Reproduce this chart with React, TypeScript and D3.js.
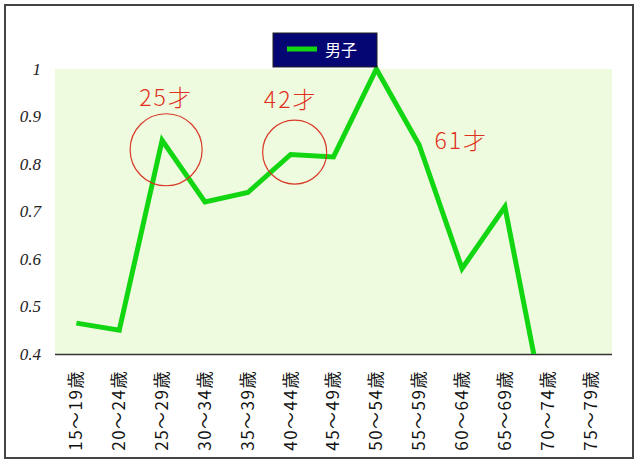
import React, { useEffect, useRef } from 'react';
import * as d3 from 'd3';

const categories = ['15～19歳', '20～24歳', '25～29歳', '30～34歳', '35～39歳', '40～44歳', '45～49歳',
    '50～54歳', '55～59歳', '60～64歳', '65～69歳', '70～74歳', '75～79歳'];
const maleValues: Array<number | null> = [0.465, 0.45, 0.85, 0.72, 0.74, 0.82, 0.815, 1.0, 0.84, 0.58, 0.71, 0.25, null];
const yTicks = [0.4, 0.5, 0.6, 0.7, 0.8, 0.9, 1];
const seriesName = '男子';

// annotations: category + value where the note sits
const circleNotes = [
    { cat: '25～29歳', value: 0.83, r: 36 },
    { cat: '40～44歳', value: 0.825, r: 32 },
];
const textNotes = [
    { cat: '25～29歳', value: 0.94, label: '25才', dx: 4 },
    { cat: '40～44歳', value: 0.935, label: '42才', dx: 0 },
    { cat: '55～59歳', value: 0.848, label: '61才', dx: 42 },
];

export default function App() {
    const ref = useRef<SVGSVGElement>(null);

    useEffect(() => {
        const width = 640;
        const height = 467;
        const margin = { top: 69, right: 28, bottom: 113, left: 55 };

        const svg = d3.select(ref.current);
        svg.selectAll('*').remove();

        const x = d3.scaleBand<string>()
            .domain(categories)
            .range([margin.left, width - margin.right]);
        const y = d3.scaleLinear()
            .domain([0.4, 1])
            .range([height - margin.bottom, margin.top]);
        const cx = (c: string) => (x(c) as number) + x.bandwidth() / 2;

        // outer frame
        svg.append('rect')
            .attr('x', 5).attr('y', 5)
            .attr('width', 628).attr('height', 453)
            .attr('fill', '#fff')
            .attr('stroke', '#444')
            .attr('stroke-width', 2);

        // plot background
        svg.append('rect')
            .attr('x', margin.left).attr('y', y(1))
            .attr('width', width - margin.left - margin.right)
            .attr('height', y(0.4) - y(1))
            .attr('fill', '#effbdf');

        svg.append('clipPath').attr('id', 'plotClip')
            .append('rect')
            .attr('x', margin.left).attr('y', y(1) - 4)
            .attr('width', width - margin.left - margin.right)
            .attr('height', y(0.4) - y(1) + 4);

        // y labels
        svg.selectAll('.yLabel')
            .data(yTicks)
            .enter().append('text')
            .attr('class', 'yLabel')
            .attr('x', 41)
            .attr('y', (d: number) => y(d))
            .attr('dy', '0.35em')
            .attr('text-anchor', 'end')
            .attr('font-family', '"Liberation Serif", "DejaVu Serif", serif')
            .attr('font-style', 'italic')
            .attr('font-size', 17)
            .attr('fill', '#222')
            .text((d: number) => d === 1 ? '1' : d.toFixed(1));

        // x axis line
        svg.append('line')
            .attr('x1', margin.left).attr('x2', width - margin.right)
            .attr('y1', y(0.4) + 0.5).attr('y2', y(0.4) + 0.5)
            .attr('stroke', '#333')
            .attr('stroke-width', 1.5);

        // x labels
        svg.selectAll('.xLabel')
            .data(categories)
            .enter().append('text')
            .attr('class', 'xLabel')
            .attr('transform', (d: string) => 'translate(' + [cx(d), y(0.4) + 16] + ') rotate(-90)')
            .attr('dy', '0.35em')
            .attr('text-anchor', 'end')
            .attr('font-family', '"Noto Sans CJK JP", "Noto Sans", sans-serif')
            .attr('font-size', 17)
            .attr('letter-spacing', 1.5)
            .attr('fill', '#111')
            .text((d: string) => d);

        // line
        const pts = categories.map((c, i) => ({ c, v: maleValues[i] }));
        const line = d3.line<{ c: string, v: number | null }>()
            .defined(d => d.v !== null)
            .x(d => cx(d.c))
            .y(d => y(d.v as number));
        svg.append('path')
            .datum(pts)
            .attr('clip-path', 'url(#plotClip)')
            .attr('d', line)
            .attr('fill', 'none')
            .attr('stroke', '#11d611')
            .attr('stroke-width', 5)
            .attr('stroke-linejoin', 'miter');

        // circles
        svg.selectAll('.note')
            .data(circleNotes)
            .enter().append('circle')
            .attr('class', 'note')
            .attr('cx', d => cx(d.cat) + 4)
            .attr('cy', d => y(d.value))
            .attr('r', d => d.r)
            .attr('fill', 'none')
            .attr('stroke', '#d83828')
            .attr('stroke-width', 1.2);

        svg.selectAll('.noteText')
            .data(textNotes)
            .enter().append('text')
            .attr('class', 'noteText')
            .attr('x', d => cx(d.cat) + d.dx)
            .attr('y', d => y(d.value))
            .attr('dy', '0.35em')
            .attr('text-anchor', 'middle')
            .attr('font-family', '"Noto Sans CJK JP", sans-serif')
            .attr('font-weight', 300)
            .attr('font-size', 23)
            .attr('letter-spacing', 2)
            .attr('fill', '#e03020')
            .text(d => d.label);

        // legend
        const lg = svg.append('g').attr('transform', 'translate(273,33)');
        lg.append('rect')
            .attr('width', 104).attr('height', 34)
            .attr('fill', '#050574')
            .attr('stroke', '#222');
        lg.append('line')
            .attr('x1', 14).attr('x2', 44)
            .attr('y1', 16).attr('y2', 16)
            .attr('stroke', '#11d611')
            .attr('stroke-width', 5);
        lg.append('text')
            .attr('x', 52).attr('y', 17)
            .attr('dy', '0.35em')
            .attr('font-family', '"Noto Sans CJK JP", sans-serif')
            .attr('font-size', 16)
            .attr('fill', '#fff')
            .text(seriesName);
    }, []);

    return (
        <svg ref={ref} width={640} height={467}
            style={{ position: 'absolute', left: 0, top: 0, background: '#fff' }} />
    );
}
